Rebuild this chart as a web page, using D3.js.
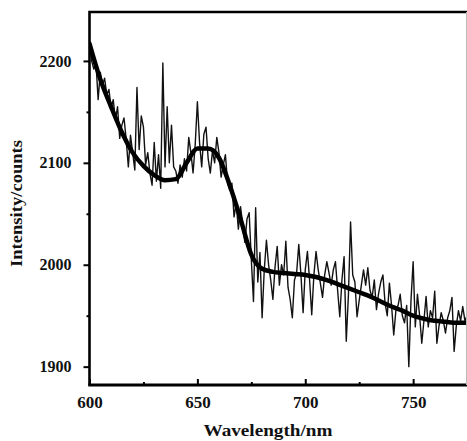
<!DOCTYPE html>
<html>
<head>
<meta charset="utf-8">
<script src="https://cdn.jsdelivr.net/npm/d3@7"></script>
<style>
    body { margin: 0; background: #fff; }
    svg { display: block; }
    .lbl { font-family: "Liberation Serif", "Times New Roman", serif; font-weight: bold; fill: #111; }
</style>
</head>
<body>
<svg id="chart" width="467" height="441"></svg>
<script>

// raw spectrum, one reading per nm from 600 nm
const noiseStart = 600;
const noiseCounts = [
    2217, 2200, 2192, 2198, 2162, 2189, 2176, 2183, 2167, 2172,
    2154, 2162, 2142, 2155, 2124, 2137, 2144, 2123, 2096, 2127,
    2110, 2093, 2174, 2113, 2146, 2135, 2098, 2110, 2090, 2078,
    2120, 2082, 2108, 2075, 2198, 2096, 2155, 2100, 2137, 2096,
    2092, 2080, 2098, 2086, 2104, 2092, 2125, 2110, 2090, 2118,
    2160, 2120, 2096, 2128, 2135, 2104, 2090, 2112, 2100, 2125,
    2110, 2086, 2098, 2108, 2080, 2073, 2080, 2047, 2060, 2035,
    2057, 2040, 2022, 2045, 2051, 2005, 1964, 2056, 1983, 2012,
    1948, 1995, 2024, 2000, 1985, 1966, 1998, 2018, 1980, 2000,
    1990, 2023, 1978, 1966, 1948, 1985, 1992, 2020, 1990, 1953,
    1995, 2013, 1985, 1951, 1990, 2013, 1995, 1982, 1968, 1990,
    2003, 1992, 1980, 1995, 2003, 1975, 1949, 1985, 2008, 1925,
    1970, 2042, 1990, 1983, 1949, 1965, 1980, 1995, 1980, 1997,
    1975, 1968, 1985, 1956, 1972, 1983, 1990, 1962, 1950, 1982,
    1960, 1931, 1955, 1960, 1971, 1950, 1943, 1960, 1900, 1965,
    2003, 1939, 1971, 1950, 1923, 1945, 1969, 1939, 1955, 1948,
    1974, 1923, 1940, 1953, 1945, 1933, 1948, 1955, 1968, 1915,
    1940, 1955, 1945, 1959, 1945, 1950
];

// fitted curve
const smoothWavelengths = [600, 605, 610, 615, 620, 625, 630, 635, 640, 645, 650, 655, 660, 665, 670, 675, 680, 685, 690, 695, 700, 705, 710, 715, 720, 725, 730, 735, 740, 745, 750, 755, 760, 765, 770, 775];
const smoothCounts = [2217, 2182, 2155, 2130, 2110, 2097, 2088, 2083, 2084, 2100, 2114, 2114, 2105, 2078, 2045, 2010, 1996, 1993, 1992, 1991, 1990, 1988, 1985, 1981, 1977, 1973, 1969, 1964, 1959, 1955, 1950, 1947, 1945, 1944, 1943, 1943];

const xMajorTicks = [600, 650, 700, 750];
const xMinorTicks = [625, 675, 725];
const yMajorTicks = [1900, 2000, 2100, 2200];
const yMinorTicks = [1950, 2050, 2150];

(function () {

    const svg = d3.select('#chart');

    const left = 89.5, right = 466, top = 12, bottom = 385;

    const x = d3.scaleLinear().domain([600, 774.5]).range([left, right]);
    const y = d3.scaleLinear().domain([1882, 2248]).range([bottom, top]);

    svg.append('defs').append('clipPath').attr('id', 'plotClip')
        .append('rect')
        .attr('x', left).attr('y', top)
        .attr('width', right - left).attr('height', bottom - top);

    const noise = noiseCounts.map((v, i) => ({ w: noiseStart + i, v: v }));
    const smooth = smoothWavelengths.map((w, i) => ({ w: w, v: smoothCounts[i] }));

    const plot = svg.append('g').attr('clip-path', 'url(#plotClip)');

    const noiseLine = d3.line()
        .x(d => x(d.w))
        .y(d => y(d.v));

    plot.append('path')
        .datum(noise)
        .attr('d', noiseLine)
        .attr('fill', 'none')
        .attr('stroke', '#111')
        .attr('stroke-width', 1.4)
        .attr('stroke-linejoin', 'round');

    const smoothLine = d3.line()
        .curve(d3.curveMonotoneX)
        .x(d => x(d.w))
        .y(d => y(d.v));

    plot.append('path')
        .datum(smooth)
        .attr('d', smoothLine)
        .attr('fill', 'none')
        .attr('stroke', '#000')
        .attr('stroke-width', 4.5)
        .attr('stroke-linecap', 'round');

    // axes
    const fmt = d3.format('d');

    const styleAxis = (g) => {
        g.select('.domain').remove();
        g.selectAll('line').attr('stroke', '#000').attr('stroke-width', 2);
        g.selectAll('text').attr('class', 'lbl').attr('fill', '#111');
    };

    svg.append('g')
        .attr('transform', `translate(0,${bottom})`)
        .call(d3.axisBottom(x).tickValues(xMajorTicks).tickFormat(fmt).tickSizeInner(-6).tickSizeOuter(0).tickPadding(11))
        .call(styleAxis)
        .selectAll('text').style('font-size', '17px');

    svg.append('g')
        .attr('transform', `translate(0,${bottom})`)
        .call(d3.axisBottom(x).tickValues(xMinorTicks).tickSizeInner(-3).tickSizeOuter(0).tickFormat(''))
        .call(styleAxis);

    svg.append('g')
        .attr('transform', `translate(${left},0)`)
        .call(d3.axisLeft(y).tickValues(yMajorTicks).tickFormat(fmt).tickSizeInner(6).tickSizeOuter(0).tickPadding(12))
        .call(styleAxis)
        .selectAll('text').style('font-size', '16px');

    svg.append('g')
        .attr('transform', `translate(${left},0)`)
        .call(d3.axisLeft(y).tickValues(yMinorTicks).tickSizeInner(3).tickSizeOuter(0).tickFormat(''))
        .call(styleAxis);

    // frame
    svg.append('path')
        .attr('d', `M${left},${bottom} V${top} H${right + 1}`)
        .attr('fill', 'none')
        .attr('stroke', '#000')
        .attr('stroke-width', 2.6);

    svg.append('line')
        .attr('x1', left - 1.3).attr('x2', right + 1)
        .attr('y1', bottom).attr('y2', bottom)
        .attr('stroke', '#000')
        .attr('stroke-width', 3);

    svg.append('line')
        .attr('x1', 466.5).attr('x2', 466.5)
        .attr('y1', top).attr('y2', bottom)
        .attr('stroke', '#bbb')
        .attr('stroke-width', 1);

    // titles
    svg.append('text')
        .attr('class', 'lbl')
        .attr('x', 268)
        .attr('y', 436)
        .attr('text-anchor', 'middle')
        .attr('textLength', 129)
        .attr('lengthAdjust', 'spacingAndGlyphs')
        .style('font-size', '17px')
        .text('Wavelength/nm');

    svg.append('text')
        .attr('class', 'lbl')
        .attr('transform', 'translate(22,203.5) rotate(-90)')
        .attr('text-anchor', 'middle')
        .attr('textLength', 127)
        .attr('lengthAdjust', 'spacingAndGlyphs')
        .style('font-size', '17px')
        .text('Intensity/counts');

})();
</script>
</body>
</html>
